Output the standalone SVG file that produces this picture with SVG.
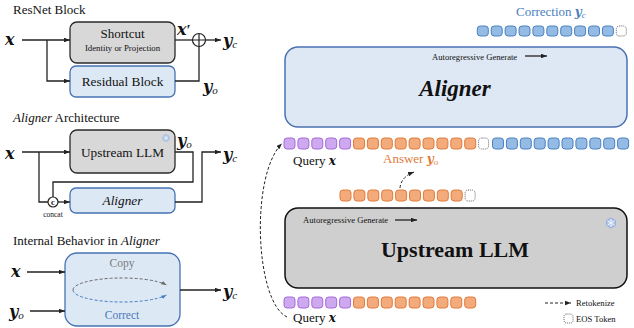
<svg xmlns="http://www.w3.org/2000/svg" width="634" height="328" viewBox="0 0 634 328" font-family="'Liberation Serif', 'Times New Roman', serif">
<style>
text{font-family:"Liberation Serif","Times New Roman",serif;fill:#111}
.t13{font-size:13px}
.mth{font-family:"DejaVu Serif","Liberation Serif",serif;font-weight:bold;font-style:italic;font-size:16px}
.sub{font-family:"Liberation Serif",serif;font-style:italic;font-weight:normal;font-size:11px}
.mth2{font-family:"DejaVu Serif","Liberation Serif",serif;font-weight:bold;font-style:italic;font-size:12px}
.sub2{font-family:"Liberation Serif",serif;font-style:italic;font-weight:normal;font-size:9px}
.ln{fill:none;stroke:#222;stroke-width:1.3}
.gray{fill:#d8d8d8;stroke:#2a2a2a;stroke-width:1.3}
.blue{fill:#dde8f5;stroke:#4673b3;stroke-width:1.3}
.p{fill:#cfa9f0;stroke:#a46bdb;stroke-width:1}
.o{fill:#f4ab7c;stroke:#e07b3b;stroke-width:1}
.b{fill:#93bbe3;stroke:#4b82c2;stroke-width:1}
.e{fill:#fff;stroke:#555;stroke-width:0.9;stroke-dasharray:1 1}
.small{font-size:8.6px}
.dash{fill:none;stroke:#222;stroke-width:1;stroke-dasharray:3 2}
</style>
<defs>
<marker id="ah" viewBox="0 0 8 6" refX="8" refY="3" markerWidth="6" markerHeight="4.5" markerUnits="userSpaceOnUse" orient="auto"><path d="M0,0 L8,3 L0,6 z" fill="#222"/></marker>
<marker id="ahg" viewBox="0 0 8 6" refX="8" refY="3" markerWidth="5" markerHeight="4" markerUnits="userSpaceOnUse" orient="auto"><path d="M0,0 L8,3 L0,6 z" fill="#666"/></marker>
<marker id="ahb" viewBox="0 0 8 6" refX="8" refY="3" markerWidth="5" markerHeight="4" markerUnits="userSpaceOnUse" orient="auto"><path d="M0,0 L8,3 L0,6 z" fill="#4a7cc0"/></marker>
<g id="snow" stroke="#7f9fd6" stroke-width="1" fill="none">
<polygon points="0,-5 4.3,-2.5 4.3,2.5 0,5 -4.3,2.5 -4.3,-2.5" fill="#b3c8ec" stroke="#8eaadb"/>
<path d="M0,-4 V4 M-3.5,-2 L3.5,2 M-3.5,2 L3.5,-2" stroke="#eef3fb"/>
</g>
</defs>

<!-- ===== ResNet Block ===== -->
<g id="resnet-title"><text class="t13" x="13" y="14">ResNet Block</text></g>
<g id="resnet-x"><text class="mth" x="5" y="45">x</text></g>
<g id="shortcut">
<rect class="gray" x="70" y="22" width="105" height="41" rx="7"/>
<text class="t13" x="122.5" y="38" text-anchor="middle">Shortcut</text>
<text x="122.5" y="51" text-anchor="middle" font-size="8.8">Identity or Projection</text>
</g>
<g id="residual">
<rect class="blue" x="70" y="66" width="105" height="31" rx="6"/>
<text x="122.5" y="86" text-anchor="middle" font-size="13.3">Residual Block</text>
</g>
<g id="plus">
<circle cx="199" cy="40" r="6.5" fill="#fff" stroke="#222" stroke-width="1.2"/>
<path d="M192.5 40 H205.5 M199 33.5 V46.5" stroke="#222" stroke-width="1.2"/>
</g>
<g id="resnet-labels">
<text class="mth" x="177" y="35">x<tspan font-family="Liberation Serif" font-style="normal" font-weight="bold" font-size="15">′</tspan></text>
<text class="mth" x="223" y="46">y<tspan class="sub" dy="2">c</tspan></text>
<text class="mth" x="203" y="92">y<tspan class="sub" dy="2">o</tspan></text>
</g>

<!-- ===== Aligner Architecture ===== -->
<g id="arch-title"><text class="t13" x="13" y="122"><tspan font-style="italic">Aligner</tspan> Architecture</text></g>
<g id="arch-x"><text class="mth" x="5" y="159">x</text></g>
<g id="arch-upstream">
<rect class="gray" x="70" y="130" width="105" height="43" rx="7"/>
<text x="122.5" y="157" text-anchor="middle" font-size="13.3">Upstream LLM</text>
<use href="#snow" transform="translate(166,138) scale(0.7)"/>
</g>
<g id="arch-aligner">
<rect class="blue" x="70" y="188" width="105" height="25" rx="6"/>
<text x="122.5" y="205" text-anchor="middle" font-size="13.3" font-style="italic">Aligner</text>
</g>
<g id="concat">
<circle cx="53" cy="202" r="5" fill="#fff" stroke="#222" stroke-width="1.2"/>
<text x="53" y="205" text-anchor="middle" font-size="8.5" font-weight="bold">c</text>
<text x="53" y="217" text-anchor="middle" font-size="7.5">concat</text>
</g>
<g id="arch-labels">
<text class="mth" x="177" y="146">y<tspan class="sub" dy="2">o</tspan></text>
<text class="mth" x="223" y="160">y<tspan class="sub" dy="2">c</tspan></text>
</g>

<!-- ===== Internal Behavior ===== -->
<g id="int-title"><text class="t13" x="13" y="245">Internal Behavior in <tspan font-style="italic">Aligner</tspan></text></g>
<g id="int-box">
<rect class="blue" x="65" y="253" width="115" height="73" rx="12"/>
<text x="122" y="267" text-anchor="middle" font-size="11.5" style="fill:#7a7a7a">Copy</text>
<text x="122" y="319" text-anchor="middle" font-size="11.5" style="fill:#4a78b8">Correct</text>
<path d="M73 290 A49 12 0 0 1 166.4 284.9" fill="none" stroke="#666" stroke-width="1" stroke-dasharray="3 2" marker-end="url(#ahg)"/>
<path d="M73 290 A49 12 0 0 0 166.4 295.1" fill="none" stroke="#4a7cc0" stroke-width="1" stroke-dasharray="3 2" marker-end="url(#ahb)"/>
</g>
<g id="int-labels">
<text class="mth" x="11" y="277">x</text>
<text class="mth" x="9" y="317">y<tspan class="sub" dy="2">o</tspan></text>
<text class="mth" x="223" y="297">y<tspan class="sub" dy="2">c</tspan></text>
</g>

<!-- ===== Right panel ===== -->
<g id="correction">
<text x="516" y="16" font-size="13" style="fill:#4a7fc0">Correction <tspan class="mth2" style="fill:#4a7fc0">y</tspan><tspan class="sub2" dy="2" style="fill:#4a7fc0">c</tspan></text>
<rect class="b" x="477.3" y="26" width="11" height="10" rx="3"/>
<rect class="b" x="491.2" y="26" width="11" height="10" rx="3"/>
<rect class="b" x="505.1" y="26" width="11" height="10" rx="3"/>
<rect class="b" x="519.0" y="26" width="11" height="10" rx="3"/>
<rect class="b" x="532.9" y="26" width="11" height="10" rx="3"/>
<rect class="b" x="546.8" y="26" width="11" height="10" rx="3"/>
<rect class="b" x="560.7" y="26" width="11" height="10" rx="3"/>
<rect class="b" x="574.6" y="26" width="11" height="10" rx="3"/>
<rect class="b" x="588.5" y="26" width="11" height="10" rx="3"/>
<rect class="b" x="602.4" y="26" width="11" height="10" rx="3"/>
<rect class="e" x="616.3" y="26" width="10" height="10" rx="3"/>
</g>
<g id="aligner-main">
<rect x="285" y="47" width="342" height="80" rx="13" fill="#dee8f4" stroke="#4a72b0" stroke-width="1.5"/>
<text x="432" y="60" class="small">Autoregressive Generate</text>
<path d="M525 56 H547" class="ln" stroke-width="1" marker-end="url(#ah)"/>
<text x="455" y="96" text-anchor="middle" font-size="23" font-weight="bold" font-style="italic">Aligner</text>
</g>
<g id="middle-row">
<rect class="p" x="284.0" y="138" width="11" height="11" rx="3"/>
<rect class="p" x="297.9" y="138" width="11" height="11" rx="3"/>
<rect class="p" x="311.8" y="138" width="11" height="11" rx="3"/>
<rect class="p" x="325.7" y="138" width="11" height="11" rx="3"/>
<rect class="p" x="339.6" y="138" width="11" height="11" rx="3"/>
<rect class="o" x="353.5" y="138" width="11" height="11" rx="3"/>
<rect class="o" x="367.4" y="138" width="11" height="11" rx="3"/>
<rect class="o" x="381.3" y="138" width="11" height="11" rx="3"/>
<rect class="o" x="395.2" y="138" width="11" height="11" rx="3"/>
<rect class="o" x="409.1" y="138" width="11" height="11" rx="3"/>
<rect class="o" x="423.0" y="138" width="11" height="11" rx="3"/>
<rect class="o" x="436.9" y="138" width="11" height="11" rx="3"/>
<rect class="o" x="450.8" y="138" width="11" height="11" rx="3"/>
<rect class="o" x="464.7" y="138" width="11" height="11" rx="3"/>
<rect class="e" x="478.6" y="138" width="10" height="11" rx="3"/>
<rect class="b" x="492.5" y="138" width="11" height="11" rx="3"/>
<rect class="b" x="506.4" y="138" width="11" height="11" rx="3"/>
<rect class="b" x="520.3" y="138" width="11" height="11" rx="3"/>
<rect class="b" x="534.2" y="138" width="11" height="11" rx="3"/>
<rect class="b" x="548.1" y="138" width="11" height="11" rx="3"/>
<rect class="b" x="562.0" y="138" width="11" height="11" rx="3"/>
<rect class="b" x="575.9" y="138" width="11" height="11" rx="3"/>
<rect class="b" x="589.8" y="138" width="11" height="11" rx="3"/>
<rect class="b" x="603.7" y="138" width="11" height="11" rx="3"/>
<rect class="b" x="617.6" y="138" width="11" height="11" rx="3"/>
<text x="293" y="165" font-size="13">Query <tspan class="mth2">x</tspan></text>
<text x="383" y="163" font-size="13" style="fill:#e07b39">Answer <tspan class="mth2" style="fill:#e07b39">y</tspan><tspan class="sub2" dy="2" style="fill:#e07b39">o</tspan></text>
</g>
<g id="answer-row">
<rect class="o" x="340.0" y="190" width="11" height="11" rx="3"/>
<rect class="o" x="353.9" y="190" width="11" height="11" rx="3"/>
<rect class="o" x="367.8" y="190" width="11" height="11" rx="3"/>
<rect class="o" x="381.7" y="190" width="11" height="11" rx="3"/>
<rect class="o" x="395.6" y="190" width="11" height="11" rx="3"/>
<rect class="o" x="409.5" y="190" width="11" height="11" rx="3"/>
<rect class="o" x="423.4" y="190" width="11" height="11" rx="3"/>
<rect class="o" x="437.3" y="190" width="11" height="11" rx="3"/>
<rect class="o" x="451.2" y="190" width="11" height="11" rx="3"/>
<rect class="e" x="465.1" y="190" width="10" height="11" rx="3"/>
</g>
<g id="upstream-main">
<rect x="285" y="208" width="342" height="80" rx="13" fill="#d0cfcf" stroke="#111" stroke-width="1.5"/>
<text x="303" y="223" class="small">Autoregressive Generate</text>
<path d="M395 220 H417" class="ln" stroke-width="1" marker-end="url(#ah)"/>
<text x="455" y="257" text-anchor="middle" font-size="22" font-weight="bold">Upstream LLM</text>
<use href="#snow" transform="translate(611,223)"/>
</g>
<g id="bottom-row">
<rect class="p" x="284.0" y="297" width="11" height="11" rx="3"/>
<rect class="p" x="297.9" y="297" width="11" height="11" rx="3"/>
<rect class="p" x="311.8" y="297" width="11" height="11" rx="3"/>
<rect class="p" x="325.7" y="297" width="11" height="11" rx="3"/>
<rect class="p" x="339.6" y="297" width="11" height="11" rx="3"/>
<rect class="o" x="353.5" y="297" width="11" height="11" rx="3"/>
<rect class="o" x="367.4" y="297" width="11" height="11" rx="3"/>
<rect class="o" x="381.3" y="297" width="11" height="11" rx="3"/>
<rect class="o" x="395.2" y="297" width="11" height="11" rx="3"/>
<rect class="o" x="409.1" y="297" width="11" height="11" rx="3"/>
<rect class="o" x="423.0" y="297" width="11" height="11" rx="3"/>
<rect class="o" x="436.9" y="297" width="11" height="11" rx="3"/>
<rect class="o" x="450.8" y="297" width="11" height="11" rx="3"/>
<rect class="o" x="464.7" y="297" width="11" height="11" rx="3"/>
<text x="293" y="322" font-size="13">Query <tspan class="mth2">x</tspan></text>
</g>
<g id="legend">
<path d="M545 303 H571" class="dash" marker-end="url(#ah)"/>
<text x="576" y="306" class="small">Retokenize</text>
<rect class="e" x="564" y="314" width="9" height="9" rx="2.5"/>
<text x="576" y="322" class="small">EOS Token</text>
</g>

<!-- ===== Connectors ===== -->
<g id="connectors">
<path class="ln" d="M22 40 H70" marker-end="url(#ah)"/>
<path class="ln" d="M47 40 V81 H70" marker-end="url(#ah)"/>
<path class="ln" d="M175 40 H192.5"/>
<path class="ln" d="M205.5 40 H221" marker-end="url(#ah)"/>
<path class="ln" d="M175 81 H199 V46.5"/>

<path class="ln" d="M22 152 H70" marker-end="url(#ah)"/>
<path class="ln" d="M39 152 V202 H48"/>
<path class="ln" d="M58 202 H70" marker-end="url(#ah)"/>
<path class="ln" d="M175 152 H193 V182 H53 V197"/>
<path class="ln" d="M175 202 H202 V152 H221" marker-end="url(#ah)"/>

<path class="ln" d="M27 272 H65" marker-end="url(#ah)"/>
<path class="ln" d="M30 311 H65" marker-end="url(#ah)"/>
<path class="ln" d="M180 290 H221" marker-end="url(#ah)"/>

<path class="dash" d="M287 317 C 255 302, 250 175, 282 143.5" marker-end="url(#ah)"/>
<path class="dash" d="M400 188 Q 401 177 414 172" marker-end="url(#ah)"/>
</g>
</svg>
